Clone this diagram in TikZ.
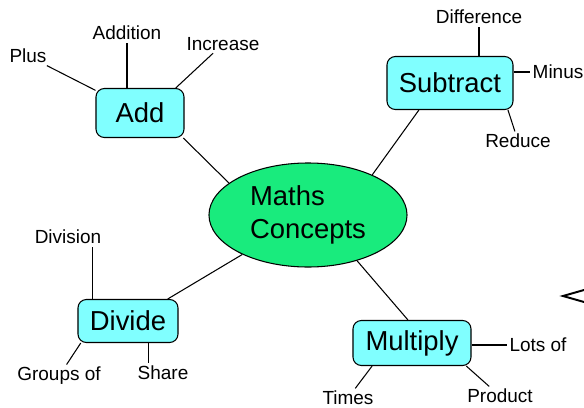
\documentclass[tikz,border=0pt]{standalone}
\usepackage{fontspec}
\setmainfont{Liberation Sans}
\usetikzlibrary{shapes.geometric}
\definecolor{BoxCyan}{HTML}{80FFFF}
\definecolor{HubGreen}{HTML}{19EB7D}

\begin{document}
\begin{tikzpicture}[x=0.025cm,y=-0.025cm,line width=0.75pt,
  concept/.style={draw,rounded corners=6pt,fill=BoxCyan,inner sep=0pt,
    font=\fontsize{19.5}{23}\selectfont},
  hub/.style={draw,ellipse,fill=HubGreen,inner sep=0pt,align=left,
    minimum width=4.95cm,minimum height=2.6cm,font=\fontsize{19.5}{23.4}\selectfont},
  word/.style={inner sep=1.5pt,font=\fontsize{13.5}{16}\selectfont}]
  \useasboundingbox (0,0) rectangle (584,407);
  % centre
  \node[hub] (maths) at (308,215) {Maths\\Concepts};
  % main branches
  \node[concept,minimum width=2.2cm,minimum height=1.225cm] (add) at (140,113) {Add};
  \node[concept,minimum width=3.15cm,minimum height=1.325cm] (subtract) at (450,83) {Subtract};
  \node[concept,minimum width=2.5cm,minimum height=1.075cm] (divide) at (128,321) {Divide};
  \node[concept,minimum width=2.95cm,minimum height=1.125cm] (multiply) at (412,343) {Multiply};
  % words
  \node[word] (plus) at (28,56) {Plus};
  \node[word] (addition) at (127,33) {Addition};
  \node[word] (increase) at (223,44) {Increase};
  \node[word] (difference) at (479,17) {Difference};
  \node[word] (minus) at (558,72) {Minus};
  \node[word] (reduce) at (518,141) {Reduce};
  \node[word] (division) at (68,237) {Division};
  \node[word] (groups) at (59,376) {Groups of};
  \node[word] (share) at (163,373) {Share};
  \node[word] (lots) at (538,345) {Lots of};
  \node[word] (times) at (348,398) {Times};
  \node[word] (product) at (500,396) {Product};
  % links to the centre
  \draw (add.-30) -- (maths.158);
  \draw (subtract.-139) -- (maths.32);
  \draw (divide.29) -- (maths.-149);
  \draw (multiply.100) -- (maths.-43);
  % Add
  \draw (add) -- (plus);
  \draw (add.north -| addition) -- (addition);
  \draw (add.35) -- (increase);
  % Subtract
  \draw (subtract.north -| difference) -- (difference);
  \draw (subtract.east |- minus) -- (minus);
  \draw (subtract.-25) -- (reduce);
  % Divide
  \draw (divide.148) -- (divide.148 |- division.south);
  \draw (divide.205) -- (groups);
  \draw (divide.-47) -- (divide.-47 |- share.north);
  % Multiply
  \draw (multiply.east |- lots) -- (lots);
  \draw (multiply.-150) -- (times);
  \draw (multiply.-23) -- (product);
  % cut-off tip at the right edge
  \coordinate (tip) at (563,296);
  \draw[line width=1.4pt] (584,290) -- (tip) -- (584,302);
\end{tikzpicture}
\end{document}
